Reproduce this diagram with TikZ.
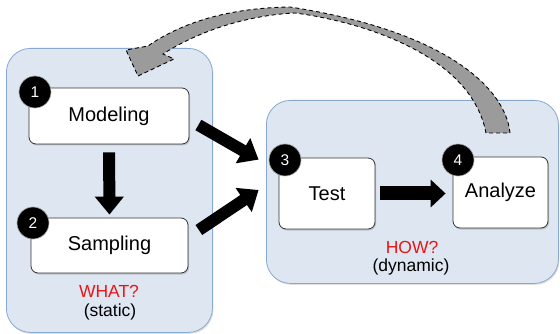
\documentclass[tikz,border=0pt]{standalone}
\usepackage{fontspec}
\setmainfont{Liberation Sans}
\usetikzlibrary{arrows.meta,shadows}

\definecolor{panefill}{RGB}{221,230,241}
\definecolor{paneline}{RGB}{137,168,208}
\definecolor{askred}{RGB}{232,22,22}
\definecolor{loopgray}{RGB}{155,155,155}

\tikzset{
  pane/.style={draw=paneline, fill=panefill, rounded corners=24pt, line width=0.8pt,
    anchor=north west, inner sep=0pt, drop shadow={shadow xshift=1pt, shadow yshift=-1.5pt, opacity=0.25}},
  stepbox/.style={draw=black!80, fill=white, rounded corners=7pt, line width=0.8pt,
    font=\fontsize{20}{24}\selectfont, drop shadow={shadow xshift=1pt, shadow yshift=-1.5pt, opacity=0.35}},
  badge/.style={circle, fill=black, draw=black!35, line width=0.6pt, text=white,
    minimum size=32pt, inner sep=0pt, font=\fontsize{15.5}{17}\selectfont},
  fat/.style={line width=12pt, -{Triangle[width=28pt,length=18pt]}},
  asklabel/.style={font=\fontsize{17.5}{20}\selectfont, inner sep=0pt}
}

\begin{document}
\begin{tikzpicture}[x=1pt, y=1pt]
	\useasboundingbox (0,0) rectangle (560,-334);

	%% the two panes
	\node[pane, minimum width=206pt, minimum height=284pt] (whatpane) at (6,-48) {};
	\node[pane, minimum width=292pt, minimum height=183pt] (howpane) at (266,-100) {};

	%% feedback loop from Analyze back to the static side
	\draw[fill=loopgray, line width=0.9pt, dash pattern=on 4pt off 3pt]
		(510,-133) .. controls (505,-85) and (440,-30) .. (290,-7)
		.. controls (220,-8) and (175,-27) .. (148,-46)
		-- (126,-50) -- (138,-76) -- (174,-59) -- (163,-54)
		.. controls (200,-30) and (250,-15) .. (295,-13)
		.. controls (350,-20) and (470,-50) .. (486,-133) -- cycle;

	\node[stepbox, minimum width=160pt, minimum height=56pt] (model) at (109,-116) {Modeling};
	\node[stepbox, minimum width=157pt, minimum height=55pt] (samp) at (109.5,-245.5) {Sampling};
	\node[stepbox, minimum width=96pt, minimum height=71pt] (test) at (327,-193.5) {Test};
	\node[stepbox, minimum width=95pt, minimum height=71pt] (ana) at (500.5,-192.5) {Analyze};

	\node[badge] (n1) at (35,-92) {1};
	\node[badge] (n2) at (33,-223) {2};
	\node[badge] (n3) at (285,-160) {3};
	\node[badge] (n4) at (458,-160) {4};

	\node[asklabel, text=askred] (what) at (109,-291) {WHAT?};
	\node[asklabel] (static) at (110,-312) {(static)};
	\node[asklabel, text=askred] (how) at (412,-247) {HOW?};
	\node[asklabel] (dyn) at (411,-267) {(dynamic)};

	%% block arrows
	\draw[fat, shorten <=8pt, shorten >=3pt] (model.south) -- (samp.north);
	\draw[fat] ([shift={(9pt,-9pt)}]model.east) -- ([shift={(-20pt,-2pt)}]test.north west);
	\draw[fat] ([shift={(10.5pt,15.5pt)}]samp.east) -- ([shift={(-20pt,3.5pt)}]test.west);
	\draw[line width=14pt, -{Triangle[width=27pt,length=15pt]}, shorten <=5pt, shorten >=7pt]
		(test.east) -- (test.east -| ana.west);
\end{tikzpicture}
\end{document}
